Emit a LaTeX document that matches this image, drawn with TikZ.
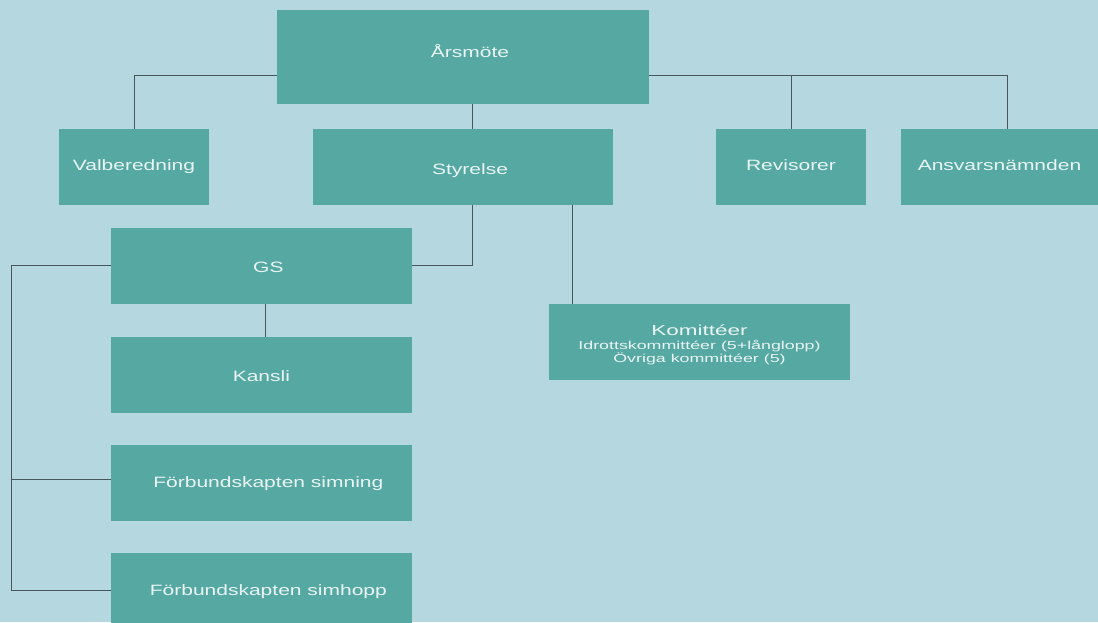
\documentclass[tikz,border=0pt]{standalone}
\usepackage{fontspec}
\setmainfont{Liberation Sans}[FakeStretch=1.4]
\newfontfamily\smallfam{Liberation Sans}[FakeStretch=1.55]
\usetikzlibrary{calc}
\definecolor{bg}{HTML}{B5D8E0}
\definecolor{boxc}{HTML}{56A8A2}
\definecolor{txt}{HTML}{EAF5F3}
\definecolor{ln}{HTML}{48565C}
\begin{document}
\begin{tikzpicture}[x=1pt,y=-1pt,
  box/.style={fill=boxc, draw=none, text=txt, inner sep=0pt, font=\fontsize{15}{18}\selectfont},
  conn/.style={draw=ln, line width=1pt}]
\fill[bg] (0,0) rectangle (1098,622);
\useasboundingbox (0,0) rectangle (1098,622);

\node[box, minimum width=372pt, minimum height=93.7pt, text height=8.5pt, text depth=7.5pt] (ars) at (463,56.85) {\hspace*{14pt}Årsmöte};
\node[box, minimum width=150pt, minimum height=75.7pt, text height=11.2pt, text depth=4.8pt] (valb) at (134,166.85) {Valberedning};
\node[box, minimum width=300pt, minimum height=75.7pt, text height=15.5pt, text depth=0.5pt] (sty) at (463,166.85) {\hspace*{14pt}Styrelse};
\node[box, minimum width=150pt, minimum height=75.7pt, text height=11.2pt, text depth=4.8pt] (rev) at (791,166.85) {Revisorer};
\node[box, minimum width=197pt, minimum height=75.7pt, text height=11.2pt, text depth=4.8pt] (ansv) at (999.5,166.85) {Ansvarsnämnden};
\node[box, minimum width=300.7pt, minimum height=75.7pt, text height=14.5pt, text depth=1.5pt] (gs) at (261.35,265.85) {\hspace*{14pt}GS};
\node[box, minimum width=300.7pt, minimum height=75.7pt, text height=14.8pt, text depth=1.2pt] (kansli) at (261.35,374.85) {Kansli};
\node[box, minimum width=300.7pt, minimum height=75.7pt, text height=12.5pt, text depth=3.5pt] (simn) at (261.35,482.85) {\hspace*{14pt}Förbundskapten simning};
\node[box, minimum width=300.7pt, minimum height=75.7pt, text height=13pt, text depth=3pt] (simh) at (261.35,590.85) {\hspace*{14pt}Förbundskapten simhopp};
\node[box, minimum width=301pt, minimum height=76pt] (kom) at (699.5,342) {\raisebox{-20.7pt}[0pt][0pt]{\parbox[b]{300pt}{\centering{\smallfam\fontsize{14.5}{14.5}\selectfont Komittéer\par}\smallfam\fontsize{11.5}{13.4}\selectfont Idrottskommittéer (5+långlopp)\par Övriga kommittéer (5)}}};

\coordinate (bus) at (0,75.7);
\coordinate (ansvtop) at (1007.5,129);
\coordinate (a1) at ($(ars.south)+(9,0)$);
\coordinate (s1) at ($(sty.south)+(9,0)$);
\coordinate (s2) at ($(sty.south)+(109,0)$);
\coordinate (g1) at ($(gs.south)+(4.5,0)$);
\coordinate (lx) at (11,0);
\coordinate (bsimn) at ($(simn.west)+(0,-3.5)$);

\draw[conn] (valb.north) |- (ars.west |- bus);
\draw[conn] (ars.east |- bus) -| (ansvtop);
\draw[conn] (rev.north) -- (rev.north |- bus);
\draw[conn] (a1) -- (a1 |- sty.north);
\draw[conn] (s1) |- (gs.east);
\draw[conn] (s2) -- (s2 |- kom.north);
\draw[conn] (g1) -- (g1 |- kansli.north);
\draw[conn] (gs.west) -| (lx |- simh.west) -- (simh.west);
\draw[conn] (lx |- bsimn) -- (bsimn);
\end{tikzpicture}
\end{document}
